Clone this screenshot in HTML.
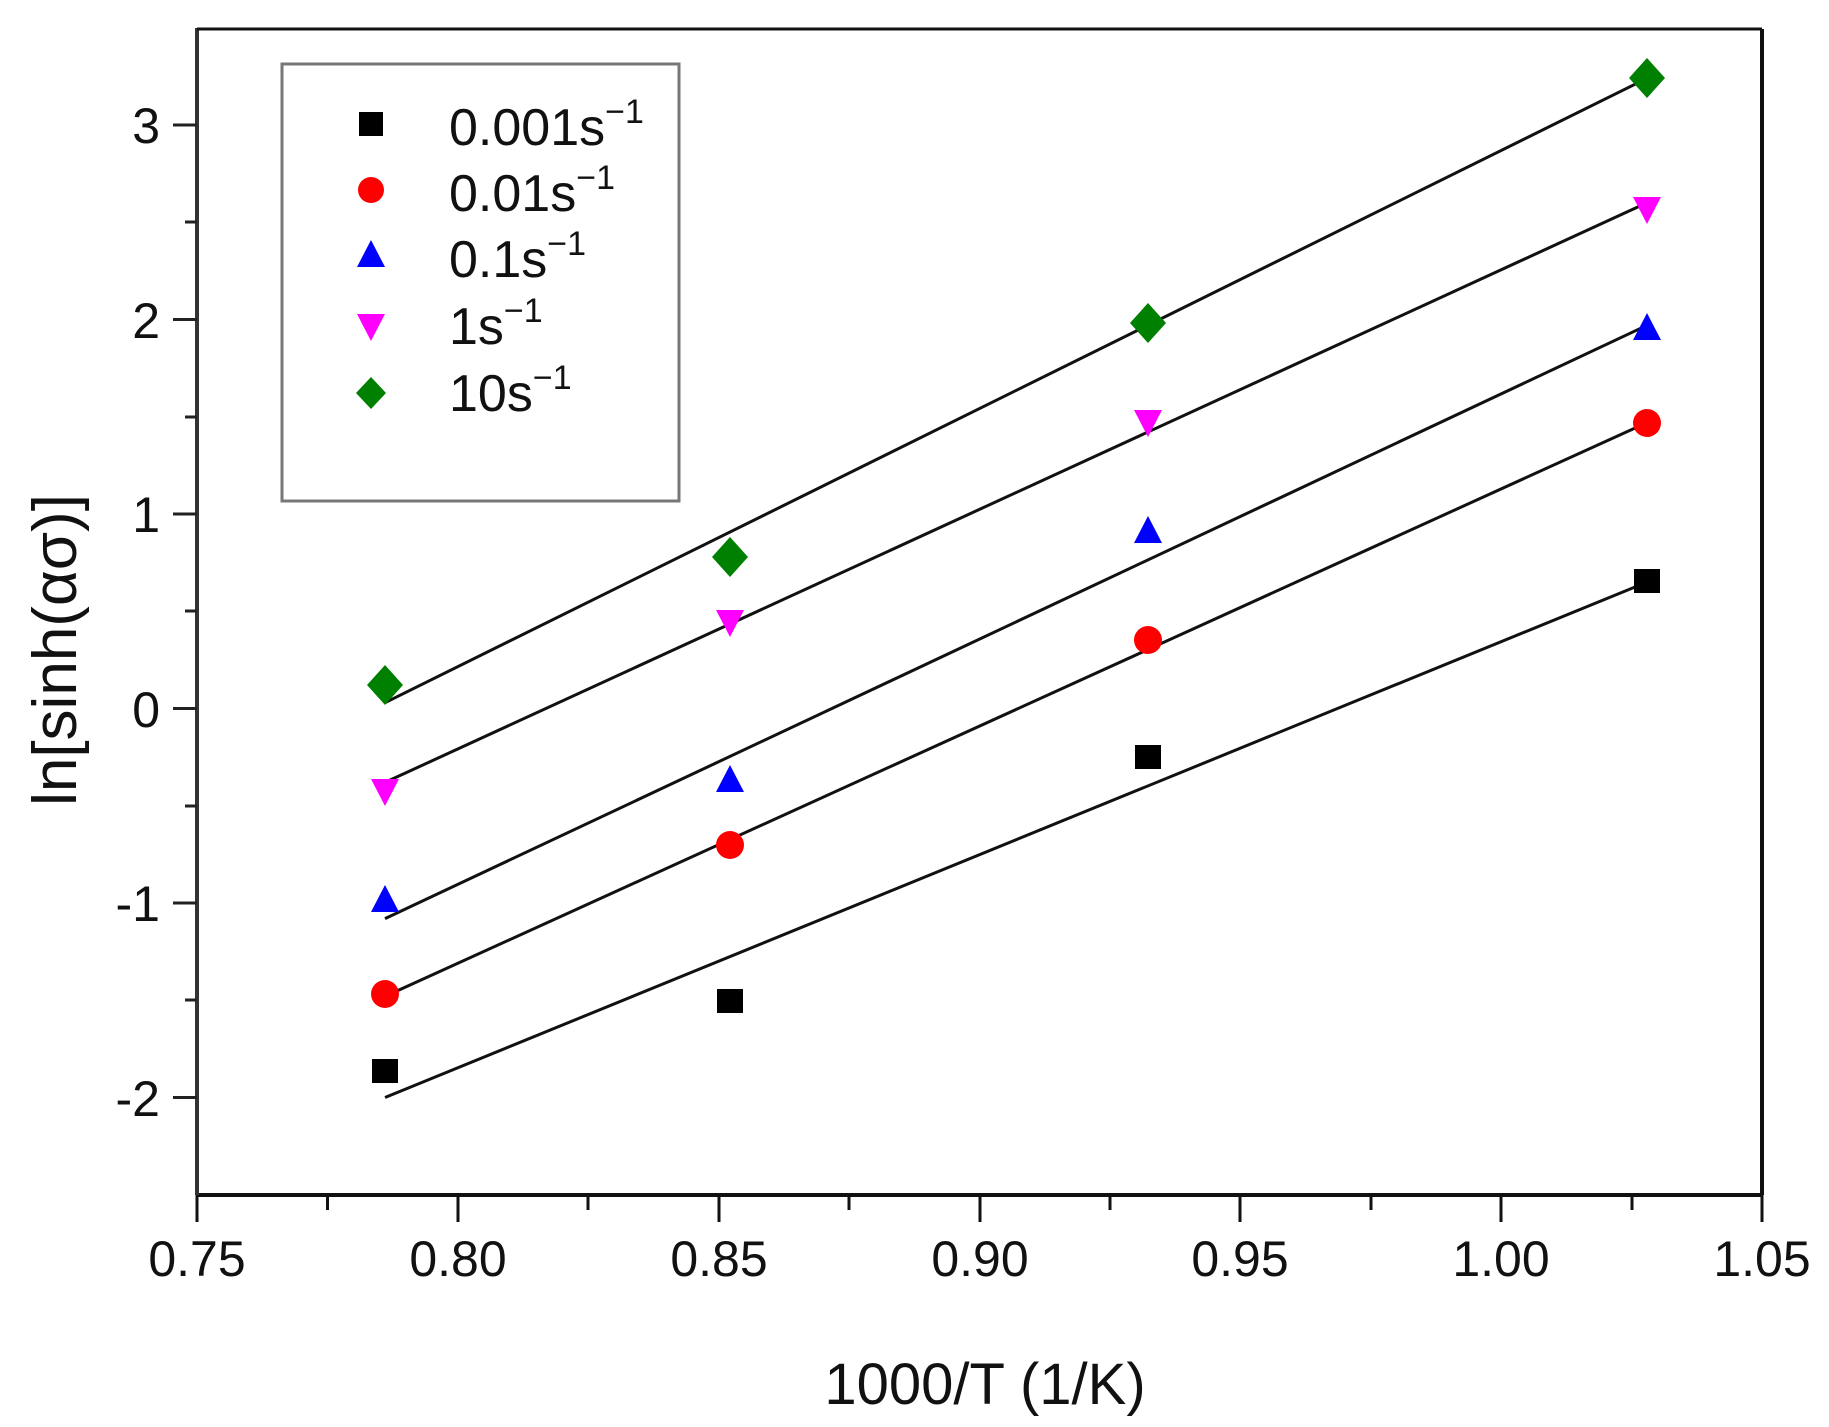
<!DOCTYPE html>
<html><head><meta charset="utf-8"><style>html,body{margin:0;padding:0;background:#fff}svg{display:block}</style></head>
<body>
<svg width="1829" height="1427" viewBox="0 0 1829 1427" xmlns="http://www.w3.org/2000/svg" font-family="Liberation Sans, Arial, sans-serif">
<rect width="1829" height="1427" fill="#fff"/>
<line x1="197" y1="1195" x2="1762" y2="1195" stroke="#111" stroke-width="4"/>
<line x1="197" y1="28" x2="197" y2="1195" stroke="#333" stroke-width="4"/>
<line x1="197" y1="29" x2="1762" y2="29" stroke="#111" stroke-width="3"/>
<line x1="1762" y1="29" x2="1762" y2="1195" stroke="#111" stroke-width="4"/>
<g stroke="#111" stroke-width="3">
<line x1="197" y1="1195" x2="197" y2="1222"/><line x1="327.5" y1="1195" x2="327.5" y2="1210"/>
<line x1="458" y1="1195" x2="458" y2="1222"/><line x1="588" y1="1195" x2="588" y2="1210"/>
<line x1="719" y1="1195" x2="719" y2="1222"/><line x1="849" y1="1195" x2="849" y2="1210"/>
<line x1="980" y1="1195" x2="980" y2="1222"/><line x1="1110" y1="1195" x2="1110" y2="1210"/>
<line x1="1240" y1="1195" x2="1240" y2="1222"/><line x1="1371" y1="1195" x2="1371" y2="1210"/>
<line x1="1501" y1="1195" x2="1501" y2="1222"/><line x1="1632" y1="1195" x2="1632" y2="1210"/>
<line x1="1762" y1="1195" x2="1762" y2="1222"/>
</g>
<g stroke="#222" stroke-width="3">
<line x1="173" y1="125" x2="197" y2="125"/><line x1="185" y1="222" x2="197" y2="222"/>
<line x1="173" y1="319.5" x2="197" y2="319.5"/><line x1="185" y1="417" x2="197" y2="417"/>
<line x1="173" y1="514" x2="197" y2="514"/><line x1="185" y1="611" x2="197" y2="611"/>
<line x1="173" y1="708.5" x2="197" y2="708.5"/><line x1="185" y1="806" x2="197" y2="806"/>
<line x1="173" y1="903" x2="197" y2="903"/><line x1="185" y1="1000" x2="197" y2="1000"/>
<line x1="173" y1="1097.5" x2="197" y2="1097.5"/>
</g>
<g font-size="50" fill="#111" text-anchor="end">
<text x="160" y="143">3</text><text x="160" y="338">2</text><text x="160" y="532">1</text>
<text x="160" y="727">0</text><text x="160" y="921">-1</text><text x="160" y="1116">-2</text>
</g>
<g font-size="50" fill="#111" text-anchor="middle">
<text x="197" y="1276">0.75</text><text x="458" y="1276">0.80</text><text x="719" y="1276">0.85</text>
<text x="980" y="1276">0.90</text><text x="1240" y="1276">0.95</text><text x="1501" y="1276">1.00</text>
<text x="1762" y="1276">1.05</text>
</g>
<text x="985" y="1404" font-size="58" text-anchor="middle" fill="#111">1000/T (1/K)</text>
<text transform="translate(76,650) rotate(-90)" font-size="62" text-anchor="middle" fill="#111">ln[sinh(ασ)]</text>
<rect x="282" y="64" width="397" height="437" fill="#fff" stroke="#777" stroke-width="3"/>
<rect x="359" y="112" width="24" height="24" fill="#000"/>
<circle cx="371" cy="190" r="13" fill="#f00"/>
<polygon points="371,240 385,267 357,267" fill="#00f"/>
<polygon points="357,314 385,314 371,341" fill="#f0f"/>
<polygon points="371,377 386,393 371,409 356,393" fill="#008000"/>
<g font-size="52" fill="#111">
<text x="449" y="145">0.001s<tspan font-size="34" dy="-22">−1</tspan></text>
<text x="449" y="211">0.01s<tspan font-size="34" dy="-22">−1</tspan></text>
<text x="449" y="277">0.1s<tspan font-size="34" dy="-22">−1</tspan></text>
<text x="449" y="344">1s<tspan font-size="34" dy="-22">−1</tspan></text>
<text x="449" y="411">10s<tspan font-size="34" dy="-22">−1</tspan></text>
</g>
<g stroke="#111" stroke-width="3">
<line x1="385" y1="702.7" x2="1647" y2="78.3"/>
<line x1="385" y1="782.4" x2="1647" y2="202.8"/>
<line x1="385" y1="918.6" x2="1647" y2="325.3"/>
<line x1="385" y1="996.4" x2="1647" y2="422.6"/>
<line x1="385" y1="1097.5" x2="1647" y2="582.1"/>
</g>
<g fill="#008000">
<polygon points="385,665 403,685 385,705 367,685"/>
<polygon points="730,537 748,557 730,577 712,557"/>
<polygon points="1148,303 1166,323 1148,343 1130,323"/>
<polygon points="1647,58 1665,78 1647,98 1629,78"/>
</g>
<g fill="#f0f">
<polygon points="371,779 399,779 385,806"/>
<polygon points="716,610 744,610 730,637"/>
<polygon points="1134,410 1162,410 1148,437"/>
<polygon points="1633,197 1661,197 1647,224"/>
</g>
<g fill="#00f">
<polygon points="385,885 399,912 371,912"/>
<polygon points="730,765 744,792 716,792"/>
<polygon points="1148,516 1162,543 1134,543"/>
<polygon points="1647,313 1661,340 1633,340"/>
</g>
<g fill="#f00">
<circle cx="385" cy="994" r="14"/><circle cx="730" cy="845" r="14"/>
<circle cx="1148" cy="640" r="14"/><circle cx="1647" cy="423" r="14"/>
</g>
<g fill="#000">
<rect x="372" y="1059" width="26" height="24"/><rect x="717" y="989" width="26" height="24"/>
<rect x="1135" y="745" width="26" height="24"/><rect x="1634" y="569" width="26" height="24"/>
</g>
</svg>
</body></html>
